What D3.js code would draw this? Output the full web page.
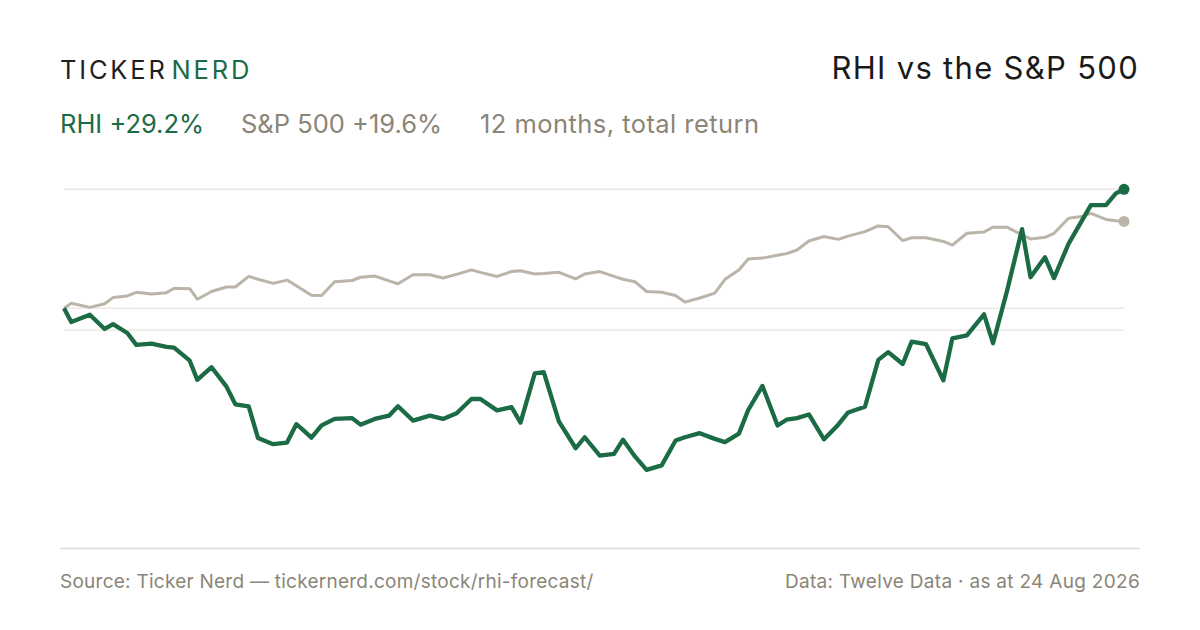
<!DOCTYPE html>
<html>
<head>
<meta charset="utf-8">
<script src="https://cdn.jsdelivr.net/npm/d3@7"></script>
<style>
  html, body { margin: 0; padding: 0; background: #fff; }
  svg { display: block; font-family: Inter, "Noto Sans", sans-serif; }
</style>
</head>
<body>
<svg width="1200" height="630"></svg>
<script>
// days since 24 Aug 2025, shared by both series
const days = [
  0, 2.5, 8.9, 14.0, 16.9, 21.8, 24.9, 30.1, 35.3, 37.9,
  43.3, 45.9, 50.8, 55.9, 59.0, 63.6, 66.8, 72.0, 76.8, 80.0,
  81.8, 85.2, 88.7, 93.2, 99.2, 102.1, 107.0, 111.9, 115.0, 120.2,
  126.0, 130.5, 135.2, 140.3, 143.4, 149.1, 154.1, 157.2, 162.1, 165.2,
  170.4, 176.2, 179.3, 184.5, 189.4, 192.5, 196.6, 200.6, 205.8, 210.6,
  213.8, 218.9, 224.1, 227.6, 232.4, 235.6, 240.5, 245.7, 248.8, 252.4,
  256.5, 261.7, 266.6, 270.0, 275.8, 280.4, 283.8, 288.8, 291.9, 296.8,
  302.8, 305.9, 310.9, 316.8, 319.9, 324.7, 329.9, 332.8, 337.8, 340.9,
  345.9, 350.4, 353.6, 358.8, 362.2, 365
];

// cumulative change, %
const rhi = [
  0, -3.4, -1.6, -5.1, -3.9, -6.1, -9.0, -8.7, -9.5, -9.7,
  -12.9, -17.6, -14.5, -19.2, -23.6, -24.1, -31.9, -33.4, -33.0, -28.5,
  -29.6, -31.8, -28.8, -27.2, -27.0, -28.6, -27.2, -26.4, -24.1, -27.6,
  -26.4, -27.2, -25.8, -22.3, -22.3, -25.1, -24.3, -28.1, -16.0, -15.7,
  -27.8, -34.4, -31.7, -36.2, -35.8, -32.3, -36.4, -39.7, -38.6, -32.5,
  -31.7, -30.7, -32.1, -32.9, -30.8, -25.0, -19.1, -28.8, -27.4, -27.0,
  -26.1, -32.2, -28.6, -25.6, -24.2, -12.7, -10.8, -13.7, -8.2, -8.8,
  -17.7, -7.4, -6.7, -1.5, -8.6, 4.2, 19.4, 7.6, 12.5, 7.4,
  15.8, 21.4, 25.3, 25.3, 28.2, 29.2
];

const spx = [
  0, 1.2, 0.2, 1.1, 2.6, 3.0, 3.9, 3.5, 3.8, 4.9,
  4.8, 2.2, 4.1, 5.2, 5.2, 7.8, 7.1, 6.1, 6.9, 5.5,
  4.7, 3.2, 3.1, 6.5, 6.8, 7.6, 7.9, 6.7, 6.0, 8.2,
  8.2, 7.4, 8.3, 9.4, 8.8, 7.8, 9.0, 9.2, 8.4, 8.5,
  8.8, 7.2, 8.4, 9.0, 7.8, 7.1, 6.5, 4.1, 3.9, 3.1,
  1.5, 2.5, 3.7, 7.1, 9.4, 12.1, 12.3, 13.0, 13.4, 14.3,
  16.5, 17.6, 16.9, 17.7, 18.8, 20.2, 20.0, 16.6, 17.3, 17.3,
  16.4, 15.5, 18.4, 18.7, 19.9, 19.9, 18.0, 17.0, 17.4, 18.4,
  22.1, 22.5, 23.3, 21.8, 21.5, 21.3
];

const gridValues = [29.2, 0, -5.4];

const svg = d3.select("svg");
const green = "#1b6b45", grey = "#bbb4a8", muted = "#8b8577";

const x = d3.scaleLinear().domain([0, 365]).range([64, 1124]);
const y = d3.scaleLinear().domain([-58.9, 29.2]).range([548, 189.3]);

// header
const brand = svg.append("text")
  .attr("x", 60).attr("y", 79)
  .attr("font-size", 25.5).attr("letter-spacing", 2.8);
brand.append("tspan").attr("fill", "#1f1f1f").text("TICKER");
brand.append("tspan").attr("fill", green).attr("dx", 4).text("NERD");

svg.append("text")
  .attr("x", 1139).attr("y", 79)
  .attr("text-anchor", "end")
  .attr("font-size", 31).attr("letter-spacing", 1.3).attr("fill", "#1a1a1a")
  .text("RHI vs the S&P 500");

const sub = [
  { t: "RHI +29.2%", x: 60, c: green, ls: 0 },
  { t: "S&P 500 +19.6%", x: 241, c: muted, ls: 0 },
  { t: "12 months, total return", x: 480, c: muted, ls: 0.45 }
];
svg.selectAll("text.sub").data(sub).enter().append("text")
  .attr("class", "sub")
  .attr("x", (d) => d.x).attr("y", 133)
  .attr("font-size", 25.5).attr("fill", (d) => d.c)
  .attr("letter-spacing", (d) => d.ls)
  .text((d) => d.t);

// grid
svg.append("g").selectAll("line").data(gridValues).enter().append("line")
  .attr("x1", x(0)).attr("x2", x(365))
  .attr("y1", (d) => y(d)).attr("y2", (d) => y(d))
  .attr("stroke", "#ece9e4").attr("stroke-width", 1.5);

const line = (vals) => d3.line()
  .x((d, i) => x(days[i]))
  .y((d) => y(d))(vals);

svg.append("path").attr("d", line(spx))
  .attr("fill", "none").attr("stroke", grey)
  .attr("stroke-width", 3).attr("stroke-linejoin", "round");

svg.append("path").attr("d", line(rhi))
  .attr("fill", "none").attr("stroke", green)
  .attr("stroke-width", 4.3).attr("stroke-linejoin", "round");

const last = days.length - 1;
svg.append("circle").attr("cx", x(days[last])).attr("cy", y(spx[last]))
  .attr("r", 5.5).attr("fill", grey);
svg.append("circle").attr("cx", x(days[last])).attr("cy", y(rhi[last]))
  .attr("r", 5.5).attr("fill", green);

// footer
svg.append("line")
  .attr("x1", 60).attr("x2", 1140).attr("y1", 548.5).attr("y2", 548.5)
  .attr("stroke", "#dedad2").attr("stroke-width", 1.5);

svg.append("text")
  .attr("x", 60).attr("y", 588)
  .attr("font-size", 19).attr("letter-spacing", 0.25).attr("fill", muted)
  .text("Source: Ticker Nerd — tickernerd.com/stock/rhi-forecast/");

svg.append("text")
  .attr("x", 1140).attr("y", 588)
  .attr("text-anchor", "end")
  .attr("font-size", 19).attr("letter-spacing", 0.3).attr("fill", muted)
  .text("Data: Twelve Data · as at 24 Aug 2026");
</script>
</body>
</html>
